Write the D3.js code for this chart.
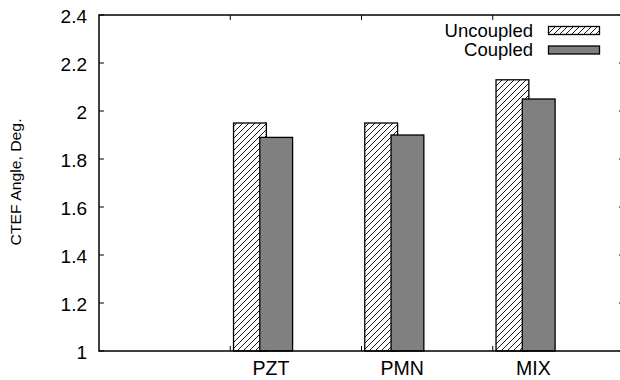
<!DOCTYPE html>
<html>
<head>
<meta charset="utf-8">
<script src="https://cdn.jsdelivr.net/npm/d3@7"></script>
<style>
  html, body { margin: 0; padding: 0; background: #fff; }
  svg { display: block; }
  text { font-family: "Liberation Sans", Arial, Helvetica, sans-serif; fill: #000; }
</style>
</head>
<body>
<svg id="chart" width="620" height="380"></svg>
<script>
// Materials and measured CTEF angles (degrees)
const categories = ["PZT", "PMN", "MIX"];
const uncoupled = [1.95, 1.95, 2.13];
const coupled = [1.89, 1.90, 2.05];
const seriesNames = ["Uncoupled", "Coupled"];
const yTicks = [1, 1.2, 1.4, 1.6, 1.8, 2, 2.2, 2.4];
const yTickLabels = ["1", "1.2", "1.4", "1.6", "1.8", "2", "2.2", "2.4"];
const yTitle = "CTEF Angle, Deg.";

const svg = d3.select("#chart");

// Plot frame (right edge sits just past the window)
const plotLeft = 99, plotRight = 624, plotTop = 15, plotBottom = 351;

const x = d3.scaleLinear().domain([0, 4]).range([plotLeft, plotRight]);
const y = d3.scaleLinear().domain([1, 2.4]).range([plotBottom, plotTop]);

// Hatch pattern for the uncoupled series
const defs = svg.append("defs");
const hatch = defs.append("pattern")
  .attr("id", "hatch")
  .attr("patternUnits", "userSpaceOnUse")
  .attr("width", 6).attr("height", 6);
hatch.append("rect").attr("width", 6).attr("height", 6).attr("fill", "#fff");
hatch.append("path")
  .attr("d", "M-1,1 L1,-1 M0,6 L6,0 M5,7 L7,5")
  .attr("stroke", "#000").attr("stroke-width", 0.9);

// Group slot for each category sits at 1, 2, 3 on the x scale
const slot = i => i + 1;
const barWidth = x(0.25) - x(0);

// Uncoupled bars
svg.append("g").selectAll("rect")
  .data(uncoupled)
  .join("rect")
  .attr("x", (d, i) => x(slot(i) + 0.025))
  .attr("width", barWidth)
  .attr("y", d => y(d))
  .attr("height", d => y(1) - y(d))
  .attr("fill", "url(#hatch)")
  .attr("stroke", "#000")
  .attr("stroke-width", 1.3);

// Coupled bars, drawn over the uncoupled ones
svg.append("g").selectAll("rect")
  .data(coupled)
  .join("rect")
  .attr("x", (d, i) => x(slot(i) + 0.225))
  .attr("width", barWidth)
  .attr("y", d => y(d))
  .attr("height", d => y(1) - y(d))
  .attr("fill", "#808080")
  .attr("stroke", "#000")
  .attr("stroke-width", 1.3);

// Frame
const frame = svg.append("g").attr("stroke", "#000").attr("fill", "none");
frame.append("rect")
  .attr("x", plotLeft).attr("y", plotTop)
  .attr("width", plotRight - plotLeft).attr("height", plotBottom - plotTop)
  .attr("stroke-width", 1.5);

// Y ticks (inward, mirrored on the right)
const tickLen = 5;
yTicks.forEach(v => {
  frame.append("line").attr("x1", plotLeft).attr("x2", plotLeft + tickLen)
    .attr("y1", y(v)).attr("y2", y(v)).attr("stroke-width", 1);
  frame.append("line").attr("x1", plotRight).attr("x2", plotRight - tickLen)
    .attr("y1", y(v)).attr("y2", y(v)).attr("stroke-width", 1);
});

// X ticks (inward, mirrored on top)
categories.forEach((c, i) => {
  frame.append("line").attr("x1", x(slot(i))).attr("x2", x(slot(i)))
    .attr("y1", plotBottom).attr("y2", plotBottom - tickLen).attr("stroke-width", 1);
  frame.append("line").attr("x1", x(slot(i))).attr("x2", x(slot(i)))
    .attr("y1", plotTop).attr("y2", plotTop + tickLen).attr("stroke-width", 1);
});

// Y tick labels
svg.append("g").selectAll("text")
  .data(yTicks)
  .join("text")
  .attr("x", 87)
  .attr("y", d => y(d) + 7.8)
  .attr("text-anchor", "end")
  .attr("font-size", 19)
  .text((d, i) => yTickLabels[i]);

// X category labels
svg.append("g").selectAll("text")
  .data(categories)
  .join("text")
  .attr("x", (d, i) => x(slot(i) + 0.31))
  .attr("y", 374.5)
  .attr("text-anchor", "middle")
  .attr("font-size", 19.5)
  .text(d => d);

// Y axis title
svg.append("text")
  .attr("transform", "translate(21,182) rotate(-90)")
  .attr("text-anchor", "middle")
  .attr("font-size", 14.5)
  .attr("textLength", 127)
  .attr("lengthAdjust", "spacingAndGlyphs")
  .text(yTitle);

// Legend
const legend = svg.append("g");
const legendFills = ["url(#hatch)", "#808080"];
const legendRows = [30.5, 50];
seriesNames.forEach((name, i) => {
  legend.append("text")
    .attr("x", 533)
    .attr("y", legendRows[i] + 6.3)
    .attr("text-anchor", "end")
    .attr("font-size", 18.5)
    .text(name);
  legend.append("rect")
    .attr("x", 548.5).attr("y", legendRows[i] - 4)
    .attr("width", 51).attr("height", 8)
    .attr("fill", legendFills[i])
    .attr("stroke", "#000").attr("stroke-width", 1.3);
});
</script>
</body>
</html>
